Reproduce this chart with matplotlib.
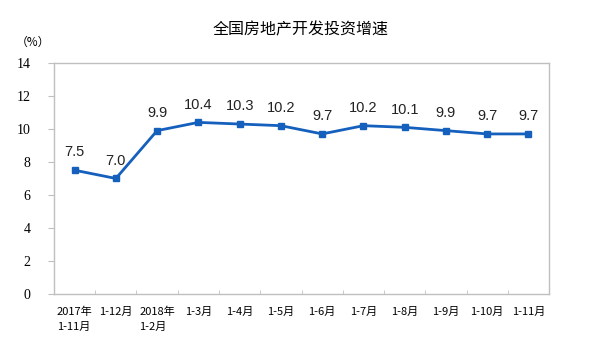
import matplotlib.pyplot as plt
import numpy as np

plt.rcParams['font.family'] = ['Noto Sans CJK SC', 'DejaVu Sans']

periods = ['2017年\n1-11月', '1-12月', '2018年\n1-2月', '1-3月', '1-4月', '1-5月',
           '1-6月', '1-7月', '1-8月', '1-9月', '1-10月', '1-11月']
growth = [7.5, 7.0, 9.9, 10.4, 10.3, 10.2, 9.7, 10.2, 10.1, 9.9, 9.7, 9.7]
yticks = [0, 2, 4, 6, 8, 10, 12, 14]

fig = plt.figure(figsize=(5.93, 3.52), dpi=100)
ax = fig.add_axes([0.091, 0.165, 0.835, 0.656])

x = np.arange(len(growth))
line_color = '#1560bd'
ax.plot(x, growth, color=line_color, lw=2, marker='s', ms=5, zorder=3)

for xi, v in zip(x, growth):
    ax.text(xi, v + 0.65, f'{v:.1f}', ha='center', va='bottom', fontsize=10.5,
            family='Liberation Sans', color='#222222')

ax.set_xlim(-0.5, len(growth) - 0.5)
ax.set_ylim(0, 14)
ax.set_yticks(yticks)
ax.set_yticklabels([str(t) for t in yticks], family='Liberation Serif', fontsize=10)

ax.set_xticks(x)
ax.set_xticklabels(periods, fontsize=8, linespacing=1.6)
for lab in ax.get_xticklabels():
    lab.set_horizontalalignment('center')
    lab.set_multialignment('left')
ax.tick_params(axis='x', length=0, pad=9)
ax.set_xticks(np.arange(len(growth) + 1) - 0.5, minor=True)
ax.tick_params(axis='x', which='minor', direction='in', length=3, color='#bfbfbf')
ax.tick_params(axis='y', direction='out', length=4, color='#bfbfbf', pad=13)

for s in ax.spines.values():
    s.set_color('#bfbfbf')
    s.set_linewidth(1)

fig.text(0.506, 0.915, '全国房地产开发投资增速', ha='center', va='center', fontsize=11.5)
fig.text(0.055, 0.88, '（%）', ha='center', va='center', fontsize=8.5)

fig.savefig('out.png', dpi=100, facecolor='white')
